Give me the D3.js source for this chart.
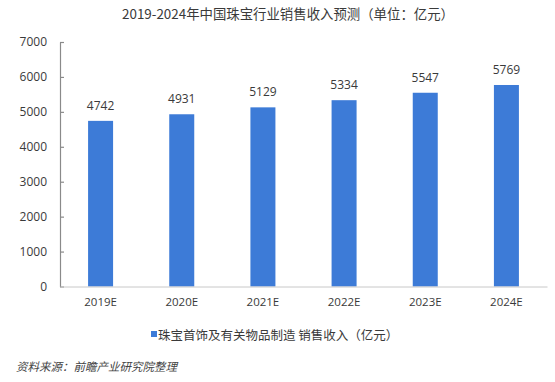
<!DOCTYPE html>
<html><head><meta charset="utf-8">
<script src="https://cdn.jsdelivr.net/npm/d3@7"></script>
<style>
html,body{margin:0;padding:0;background:#fff;}
text{font-family:"Noto Sans CJK SC","Noto Sans",sans-serif;}
</style></head>
<body><svg id="c" width="555" height="382"></svg>
<script>
const categories = ["2019E","2020E","2021E","2022E","2023E","2024E"];
const values = [4742,4931,5129,5334,5547,5769];
const yTicks = [0,1000,2000,3000,4000,5000,6000,7000];
const titleText = "2019-2024年中国珠宝行业销售收入预测（单位：亿元）";
const legendText = "珠宝首饰及有关物品制造 销售收入（亿元）";
const sourceText = "资料来源：前瞻产业研究院整理";

const svg = d3.select("#c");
const mLeft = 60, mRight = 547, mTop = 42, mBottom = 286.5;
const x = d3.scaleBand().domain(categories).range([mLeft, mRight]).padding(0);
const y = d3.scaleLinear().domain([0,7000]).range([mBottom, mTop]);
const barW = 25;
const barColor = "#3d7bd7";
const textColor = "#3a3a3a";

svg.append("text").attr("x", 288).attr("y", 18.5).attr("text-anchor","middle")
  .attr("font-size", 13.4).attr("fill", textColor).text(titleText);

// y axis
const ya = svg.append("g").attr("transform", `translate(${mLeft},0)`)
  .call(d3.axisLeft(y).tickValues(yTicks).tickSizeInner(-4).tickSizeOuter(0).tickPadding(13).tickFormat(d3.format("d")));
ya.select(".domain").attr("stroke","#8a8a8a").attr("stroke-width",1.2);
ya.selectAll(".tick line").attr("stroke","#8a8a8a").attr("stroke-width",1.2);
ya.selectAll(".tick text").attr("font-size",12).attr("fill",textColor)
  .style("font-family","'Open Sans','Noto Sans',sans-serif");

// bars
svg.append("g").selectAll("rect").data(values).join("rect")
  .attr("x", (d,i) => x(categories[i]) + x.bandwidth()/2 - barW/2)
  .attr("y", d => y(d))
  .attr("width", barW)
  .attr("height", d => mBottom - y(d))
  .attr("fill", barColor);

// value labels
svg.append("g").selectAll("text").data(values).join("text")
  .attr("x", (d,i) => x(categories[i]) + x.bandwidth()/2)
  .attr("y", d => y(d) - 11)
  .attr("text-anchor","middle").attr("font-size",12).attr("fill",textColor)
  .style("font-family","'Open Sans','Noto Sans',sans-serif")
  .text(d => d);

// x axis
const xa = svg.append("g").attr("transform", `translate(0,${mBottom})`)
  .call(d3.axisBottom(x).tickSize(0).tickPadding(11));
xa.select(".domain").attr("stroke","#c8c8c8").attr("stroke-width",1);
xa.selectAll(".tick text").attr("font-size",11.5).attr("fill",textColor)
  .style("font-family","'Open Sans','Noto Sans',sans-serif");

// legend
svg.append("rect").attr("x",151).attr("y",331).attr("width",6).attr("height",6).attr("fill",barColor);
svg.append("text").attr("x",158).attr("y",339.5).attr("font-size",12.5).attr("fill",textColor).text(legendText);

// source
svg.append("text").attr("x",16).attr("y",370.5).attr("font-size",11.5).attr("font-style","italic")
  .attr("fill","#444").text(sourceText);
</script></body></html>
